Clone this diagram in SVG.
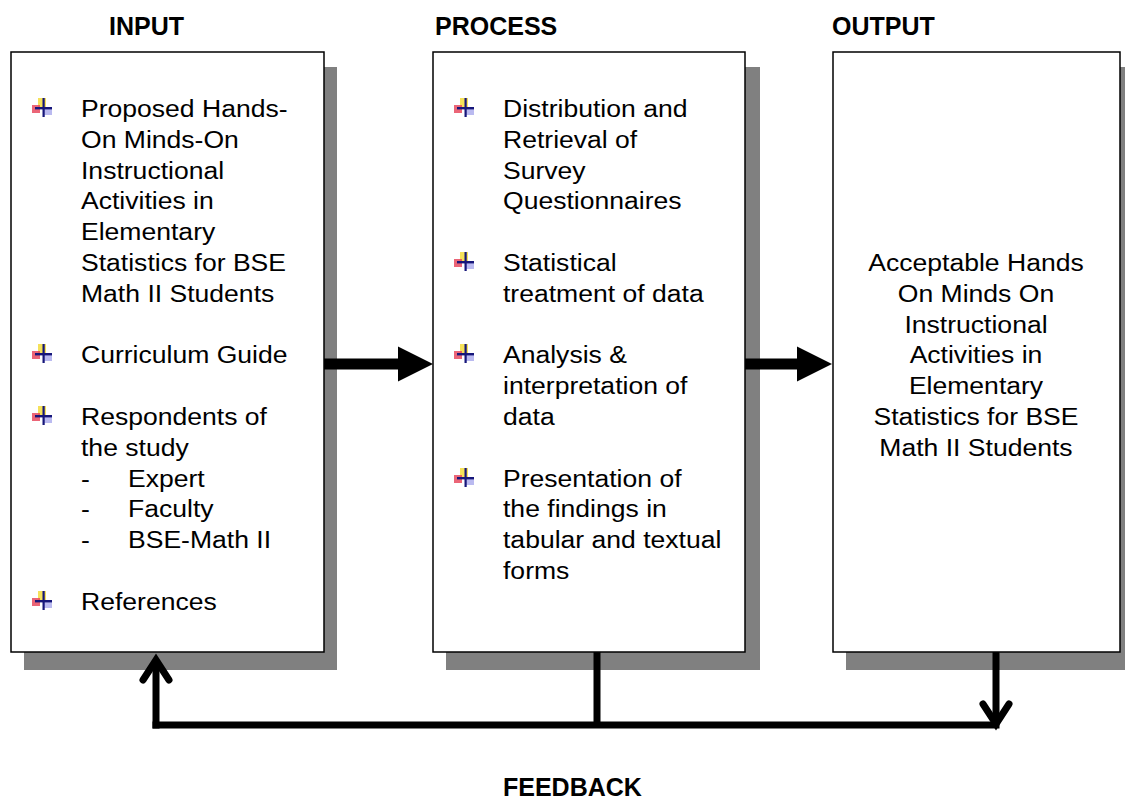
<svg xmlns="http://www.w3.org/2000/svg" xmlns:xlink="http://www.w3.org/1999/xlink" width="1125" height="802" viewBox="0 0 1125 802">
  <style>
    .shadow { fill: #808080; }
    .box { fill: #ffffff; stroke: #000000; stroke-width: 1.5; }
    .head { font-family: "Liberation Sans", Arial, sans-serif; font-weight: bold; font-size: 25px; fill: #000; }
    .body { font-family: "Liberation Sans", Arial, sans-serif; font-size: 23.5px; fill: #000; }
    .mid { text-anchor: middle; }
    .line { fill: none; stroke: #000; stroke-width: 7; stroke-linecap: butt; }
    .chev { fill: none; stroke: #000; stroke-width: 7; stroke-linecap: round; stroke-linejoin: miter; stroke-miterlimit: 10; }
    .fat { fill: #000; }
  </style>
  <defs>
    <filter id="soft" x="-30%" y="-30%" width="160%" height="160%">
      <feGaussianBlur stdDeviation="0.7"/>
    </filter>
    <!-- coloured cross bullet -->
    <g id="bullet" filter="url(#soft)">
      <rect x="6" y="0" width="8" height="9" fill="#f3dc3c" opacity="0.85"/>
      <rect x="0" y="7" width="8" height="8" fill="#e84a5f" opacity="0.85"/>
      <rect x="12" y="10" width="8" height="7" fill="#8c8ce6" opacity="0.6"/>
      <rect x="10.5" y="0" width="2.2" height="19" fill="#16167a"/>
      <rect x="3" y="9" width="17" height="2.4" fill="#16167a"/>
    </g>
  </defs>

  <rect width="1125" height="802" fill="#ffffff"/>

  <!-- column headings -->
  <text class="head" x="109" y="35">INPUT</text>
  <text class="head" x="435" y="35">PROCESS</text>
  <text class="head" x="832" y="35">OUTPUT</text>
  <text class="head" x="503" y="796">FEEDBACK</text>

  <!-- INPUT box -->
  <g id="input">
    <rect class="shadow" x="24" y="67" width="313" height="603"/>
    <rect class="box" x="11" y="52" width="313" height="600"/>
    <use xlink:href="#bullet" x="32" y="98"/>
    <use xlink:href="#bullet" x="32" y="344"/>
    <use xlink:href="#bullet" x="32" y="406"/>
    <use xlink:href="#bullet" x="32" y="591"/>
    <g transform="translate(81 0) scale(1.13 1)">
      <text class="body" x="0" y="117">Proposed Hands-</text>
      <text class="body" x="0" y="147.8">On Minds-On</text>
      <text class="body" x="0" y="178.6">Instructional</text>
      <text class="body" x="0" y="209.4">Activities in</text>
      <text class="body" x="0" y="240.2">Elementary</text>
      <text class="body" x="0" y="271">Statistics for BSE</text>
      <text class="body" x="0" y="301.8">Math II Students</text>
      <text class="body" x="0" y="363.4">Curriculum Guide</text>
      <text class="body" x="0" y="425">Respondents of</text>
      <text class="body" x="0" y="455.8">the study</text>
      <text class="body" x="0" y="486.6">-</text>
      <text class="body" x="41.6" y="486.6">Expert</text>
      <text class="body" x="0" y="517.4">-</text>
      <text class="body" x="41.6" y="517.4">Faculty</text>
      <text class="body" x="0" y="548.2">-</text>
      <text class="body" x="41.6" y="548.2">BSE-Math II</text>
      <text class="body" x="0" y="609.8">References</text>
    </g>
  </g>

  <!-- PROCESS box -->
  <g id="process">
    <rect class="shadow" x="446" y="67" width="314" height="603"/>
    <rect class="box" x="433" y="52" width="312" height="600"/>
    <use xlink:href="#bullet" x="454" y="98"/>
    <use xlink:href="#bullet" x="454" y="252"/>
    <use xlink:href="#bullet" x="454" y="344"/>
    <use xlink:href="#bullet" x="454" y="468"/>
    <g transform="translate(503 0) scale(1.13 1)">
      <text class="body" x="0" y="117">Distribution and</text>
      <text class="body" x="0" y="147.8">Retrieval of</text>
      <text class="body" x="0" y="178.6">Survey</text>
      <text class="body" x="0" y="209.4">Questionnaires</text>
      <text class="body" x="0" y="271">Statistical</text>
      <text class="body" x="0" y="301.8">treatment of data</text>
      <text class="body" x="0" y="363.4">Analysis &amp;</text>
      <text class="body" x="0" y="394.2">interpretation of</text>
      <text class="body" x="0" y="425">data</text>
      <text class="body" x="0" y="486.6">Presentation of</text>
      <text class="body" x="0" y="517.4">the findings in</text>
      <text class="body" x="0" y="548.2">tabular and textual</text>
      <text class="body" x="0" y="579">forms</text>
    </g>
  </g>

  <!-- OUTPUT box -->
  <g id="output">
    <rect class="shadow" x="846" y="67" width="290" height="603"/>
    <rect class="box" x="833" y="52" width="287" height="600"/>
    <g transform="translate(976 0) scale(1.13 1)">
      <text class="body mid" x="0" y="271">Acceptable Hands</text>
      <text class="body mid" x="0" y="301.8">On Minds On</text>
      <text class="body mid" x="0" y="332.6">Instructional</text>
      <text class="body mid" x="0" y="363.4">Activities in</text>
      <text class="body mid" x="0" y="394.2">Elementary</text>
      <text class="body mid" x="0" y="425">Statistics for BSE</text>
      <text class="body mid" x="0" y="455.8">Math II Students</text>
    </g>
  </g>

  <!-- connectors -->
  <g id="connectors">
    <!-- input to process -->
    <rect class="fat" x="324" y="358.5" width="76" height="11"/>
    <polygon class="fat" points="398,346.5 433,364 398,381.5"/>
    <!-- process to output -->
    <rect class="fat" x="745" y="358.5" width="54" height="11"/>
    <polygon class="fat" points="797,346.5 832,364 797,381.5"/>
    <!-- feedback loop -->
    <path class="line" d="M597,652 L597,725"/>
    <path class="line" d="M152.5,725 L999.5,725"/>
    <path class="line" d="M156,728.5 L156,662"/>
    <path class="chev" d="M143,680 L156,660 L169,680"/>
    <path class="line" d="M996,652 L996,722"/>
    <path class="chev" d="M983,704 L996,724 L1009,704"/>
  </g>
</svg>
